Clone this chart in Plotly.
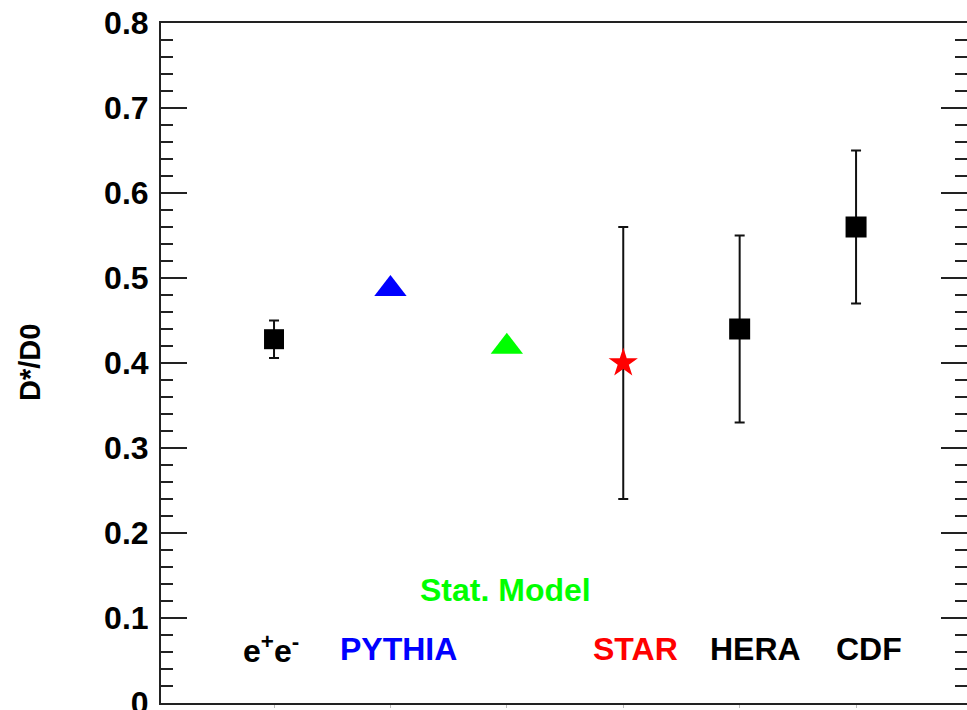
import plotly.graph_objects as go

# ---- data ----
categories = ["e+e-", "PYTHIA", "Stat. Model", "STAR", "HERA", "CDF"]
cat_pos = [1, 2, 3, 4, 5, 6]

meas_x = [1, 4, 5, 6]
meas_y = [0.428, 0.40, 0.44, 0.56]
meas_err = [0.022, 0.16, 0.11, 0.09]
meas_colors = ["#000000", "#ff0000", "#000000", "#000000"]
meas_symbols = ["square", "star", "square", "square"]
meas_sizes = [20, 22, 21, 21]

model_x = [2, 3]
model_y = [0.487, 0.419]
model_colors = ["#0000ff", "#00ff00"]

label_texts = ["e<sup>+</sup>e<sup>-</sup>", "PYTHIA", "Stat. Model", "STAR", "HERA", "CDF"]
label_colors = ["#000000", "#0000ff", "#00ff00", "#ff0000", "#000000", "#000000"]
label_y = [0.064, 0.064, 0.133, 0.064, 0.064, 0.064]
label_xshift = [-3, 8, -1, 12, 16, 13]

y_tickvals = [0, 0.1, 0.2, 0.3, 0.4, 0.5, 0.6, 0.7, 0.8]
y_ticktext = ["0", "0.1", "0.2", "0.3", "0.4", "0.5", "0.6", "0.7", "0.8"]

FONT = "Liberation Sans, Arial, Helvetica, sans-serif"

fig = go.Figure()

fig.add_trace(go.Scatter(
    x=meas_x, y=meas_y, mode="markers",
    marker=dict(color=meas_colors, symbol=meas_symbols, size=meas_sizes,
                opacity=1, line=dict(width=0)),
    error_y=dict(type="data", array=meas_err, visible=True, color="#111111", thickness=2, width=5),
    showlegend=False, hoverinfo="skip",
))

fig.add_trace(go.Scatter(
    x=model_x, y=model_y, mode="markers",
    marker=dict(color=model_colors, symbol="triangle-up", size=28, opacity=1, line=dict(width=0)),
    showlegend=False, hoverinfo="skip",
))

for xp, txt, col, yy, xs in zip(cat_pos, label_texts, label_colors, label_y, label_xshift):
    fig.add_annotation(x=xp, y=yy, xref="x", yref="y", text=txt, showarrow=False,
                       xshift=xs, xanchor="center", yanchor="middle",
                       font=dict(family=FONT, size=32, color=col, weight="bold"))

W, H = 967, 710
ML, MR, MT, MB = 161, 0, 23, 7
plot_w = W - ML - MR

fig.add_annotation(x=-(ML - 30) / plot_w, y=0.5, xref="paper", yref="paper",
                   text="D*/D0", textangle=-90, showarrow=False,
                   xanchor="center", yanchor="middle",
                   font=dict(family=FONT, size=29, color="#000000", weight="bold"))

fig.update_layout(
    width=W, height=H,
    margin=dict(l=ML, r=MR, t=MT, b=MB, pad=0, autoexpand=False),
    paper_bgcolor="white", plot_bgcolor="white",
    font=dict(family=FONT, color="#000000"),
    xaxis=dict(
        range=[0.029, 6.953], showgrid=False, zeroline=False, automargin=False,
        showline=True, linecolor="#222222", linewidth=2, mirror=True,
        tickvals=cat_pos, ticks="outside", ticklen=3, tickwidth=1, tickcolor="#bbbbbb",
        showticklabels=False,
    ),
    yaxis=dict(
        range=[0, 0.8], showgrid=False, zeroline=False, automargin=False,
        showline=True, linecolor="#222222", linewidth=2, mirror="ticks",
        tickvals=y_tickvals, ticktext=y_ticktext,
        ticks="inside", ticklen=26, tickwidth=2, tickcolor="#222222",
        tickfont=dict(family=FONT, size=32, color="#000000", weight="bold"),
        ticklabelstandoff=4, ticklabeloverflow="allow",
        minor=dict(dtick=0.02, ticks="inside", ticklen=12, tickwidth=2, tickcolor="#222222", showgrid=False),
    ),
)

fig.write_html("out.html")
